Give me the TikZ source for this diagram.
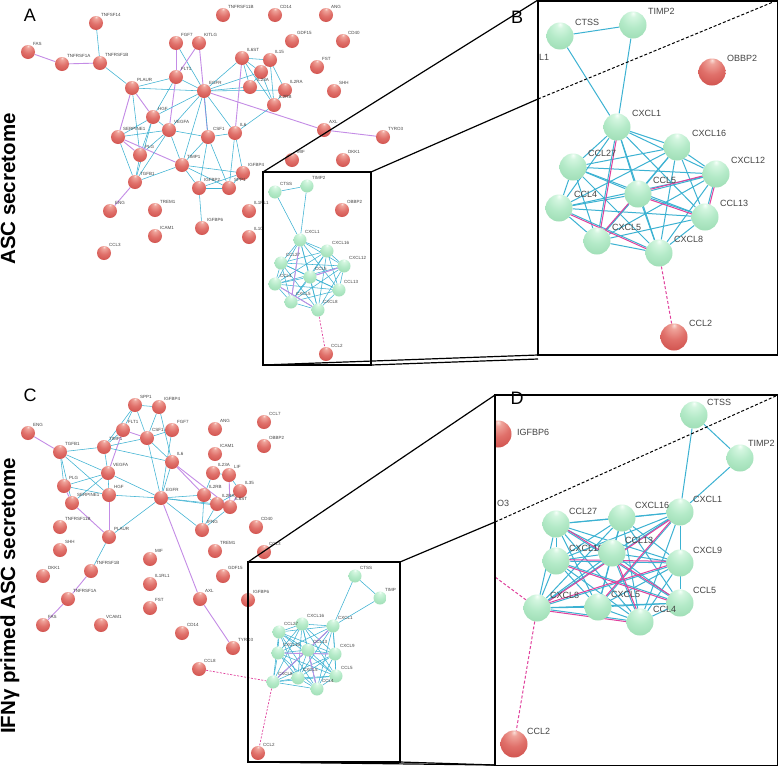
\documentclass[tikz,border=0pt]{standalone}
\usepackage{fontspec}
\setmainfont{Liberation Sans}
\usetikzlibrary{calc}
\definecolor{rA1}{HTML}{FADFD9}
\definecolor{rA2}{HTML}{EFA39A}
\definecolor{rA3}{HTML}{E0706A}
\definecolor{rA4}{HTML}{CC4A46}
\definecolor{rA5}{HTML}{A53432}
\definecolor{gA1}{HTML}{F6FFF9}
\definecolor{gA2}{HTML}{D4F6E0}
\definecolor{gA3}{HTML}{B4EAC8}
\definecolor{gA4}{HTML}{98DAB0}
\definecolor{gA5}{HTML}{68B488}
\definecolor{ecy}{HTML}{3CB2D2}
\definecolor{epu}{HTML}{C48CE6}
\definecolor{emg}{HTML}{E0409C}
\definecolor{lblc}{HTML}{444444}
\pgfdeclareradialshading{redsph}{\pgfpoint{0bp}{22bp}}{color(0bp)=(rA1); color(6bp)=(rA2); color(22bp)=(rA3); color(45bp)=(rA4); color(70bp)=(rA5); color(100bp)=(rA5)}
\pgfdeclareradialshading{greensph}{\pgfpoint{0bp}{22bp}}{color(0bp)=(gA1); color(6bp)=(gA2); color(22bp)=(gA3); color(45bp)=(gA4); color(70bp)=(gA5); color(100bp)=(gA5)}
\pgfdeclarelayer{bgfill}
\pgfdeclarelayer{edges}
\pgfsetlayers{bgfill,edges,main}
\tikzset{
 rsm/.style={circle, inner sep=0pt, minimum size=14pt, shading=redsph},
 gsm/.style={circle, inner sep=0pt, minimum size=13pt, shading=greensph},
 rbg/.style={circle, inner sep=0pt, minimum size=27pt, shading=redsph},
 gbg/.style={circle, inner sep=0pt, minimum size=27pt, shading=greensph},
 lsm/.style={font=\fontsize{4.5}{5}\selectfont, text=lblc, inner sep=0pt, anchor=west},
 lbg/.style={font=\fontsize{9}{10}\selectfont, text=lblc, inner sep=0pt, anchor=west},
 cy/.style={draw=ecy, line width=0.55pt},
 pu/.style={draw=epu, line width=0.9pt},
 cyb/.style={draw=ecy, line width=1.0pt},
 mgb/.style={draw=emg, line width=1.0pt},
 dmg/.style={draw=emg, line width=0.7pt, dash pattern=on 2pt off 1.5pt},
 dmgb/.style={draw=emg, line width=1.0pt, dash pattern=on 3pt off 2pt},
 frame/.style={draw=black, line width=1.5pt},
 persp/.style={draw=black, line width=1.2pt},
 perspd/.style={draw=black, line width=1.0pt, dash pattern=on 3pt off 2pt},
 panel/.style={font=\fontsize{18}{20}\selectfont, inner sep=0pt},
 vt/.style={font=\fontsize{20.5}{22}\selectfont\bfseries, rotate=90, inner sep=0pt, anchor=base},
}
\newcommand\RNa[4][5,-8]{\node[rsm] (#2) at (#3) {}; \node[lsm] (#2-t) at ($(#2)+(#1)$) {#4};}
\newcommand\GNa[4][5,-8]{\node[gsm] (#2) at (#3) {}; \node[lsm] (#2-t) at ($(#2)+(#1)$) {#4};}
\newcommand\RNb[4][15,-14]{\node[rbg] (#2) at (#3) {}; \node[lbg] (#2-t) at ($(#2)+(#1)$) {#4};}
\newcommand\GNb[4][15,-14]{\node[gbg] (#2) at (#3) {}; \node[lbg] (#2-t) at ($(#2)+(#1)$) {#4};}
\newcommand\EG[3]{\draw[#1] (#2) -- (#3);}
\begin{document}
\begin{tikzpicture}[x=1pt,y=-1pt]
\useasboundingbox (0,0) rectangle (778,766);
\begin{pgfonlayer}{bgfill}
\fill[white] (0,0) rectangle (778,766);
\end{pgfonlayer}

% ---------------- panel labels and side titles
\node[panel] (labA) at (30,15) {A};
\node[panel] (labB) at (517,17) {B};
\node[panel] (labC) at (30,395) {C};
\node[panel] (labD) at (517,398) {D};
\node[vt] (titA) at (15,189) {ASC secretome};
\node[vt] (titC) at (15,596) {IFNγ primed ASC secretome};

% ---------------- panel A network
\RNa{aTNFSF14}{96,23}{TNFSF14}
\RNa{aFAS}{28,52}{FAS}
\RNa{aTNFRSF1A}{62,64}{TNFRSF1A}
\RNa{aTNFRSF1B}{100,63}{TNFRSF1B}
\RNa{aPLAUR}{132,88}{PLAUR}
\RNa{aFGF7}{176,43}{FGF7}
\RNa{aFLT1}{176,77}{FLT1}
\RNa{aKITLG}{199,43}{KITLG}
\RNa{aHGF}{153,117}{HGF}
\RNa{aVEGFA}{169,130}{VEGFA}
\RNa{aSERPINE1}{118,137}{SERPINE1}
\RNa{aPLG}{140,155}{PLG}
\RNa{aTGFB1}{135,182}{TGFB1}
\RNa{aENG}{110,211}{ENG}
\RNa{aTREM1}{155,210}{TREM1}
\RNa{aICAM1}{155,236}{ICAM1}
\RNa{aCCL3}{104,253}{CCL3}
\RNa{aTIMP1}{182,165}{TIMP1}
\RNa{aEGFR}{204,91}{EGFR}
\RNa{aCSF1}{208,137}{CSF1}
\RNa{aIL6}{235,133}{IL6}
\RNa{aIL6ST}{242,58}{IL6ST}
\RNa{aIL15}{270,60}{IL15}
\RNa[-4,8]{aIL23A}{261,72}{IL23A}
\node[rsm] (aLIF) at (250,87) {};
\RNa{aIL2RA}{285,90}{IL2RA}
\RNa{aIL2RB}{274,105}{IL2RB}
\RNa{aTNFRSF11B}{223,15}{TNFRSF11B}
\RNa{aCD14}{275,15}{CD14}
\RNa{aANG}{326,15}{ANG}
\RNa{aGDF15}{292,41}{GDF15}
\RNa{aCD40}{343,41}{CD40}
\RNa{aFST}{317,67}{FST}
\RNa{aSHH}{334,91}{SHH}
\RNa{aAXL}{324,130}{AXL}
\RNa{aTYRO3}{383,137}{TYRO3}
\RNa{aMIF}{292,160}{MIF}
\RNa{aDKK1}{343,160}{DKK1}
\RNa{aIGFBP4}{243,173}{IGFBP4}
\RNa{aSPP1}{229,188}{SPP1}
\RNa{aIGFBP2}{199,188}{IGFBP2}
\RNa{aIGFBP6}{202,228}{IGFBP6}
\RNa{aIL1RL1}{249,211}{IL1RL1}
\RNa{aIL10}{249,237}{IL10}
% cluster inside the box
\GNa{aCTSS}{275,192}{CTSS}
\GNa{aTIMP2}{307,186}{TIMP2}
\RNa{aOBBP2}{342,210}{OBBP2}
\GNa{aCXCL1}{300,240}{CXCL1}
\GNa{aCXCL16}{327,251}{CXCL16}
\GNa{aCCL27}{281,263}{CCL27}
\GNa{aCXCL12}{344,266}{CXCL12}
\GNa{aCCL5}{310,277}{CCL5}
\GNa{aCCL4}{275,284}{CCL4}
\GNa{aCCL13}{339,290}{CCL13}
\GNa{aCXCL5}{291,302}{CXCL5}
\GNa{aCXCL8}{318,310}{CXCL8}
\RNa{aCCL2}{326,354}{CCL2}

\begin{pgfonlayer}{edges}
\EG{pu}{aFAS}{aTNFRSF1A}
\EG{pu}{aTNFRSF1A}{aTNFRSF1B}
\EG{cy}{aTNFSF14}{aTNFRSF1B}
\EG{cy}{aTNFRSF1B}{aPLAUR}
\EG{pu}{aPLAUR}{aHGF}
\EG{pu}{aPLAUR}{aSERPINE1}
\EG{cy}{aPLAUR}{aEGFR}
\EG{cy}{aPLAUR}{aPLG}
\EG{cy}{aPLAUR}{aFLT1}
\EG{pu}{aFGF7}{aFLT1}
\EG{cy}{aFGF7}{aEGFR}
\EG{pu}{aKITLG}{aFLT1}
\EG{pu}{aKITLG}{aCSF1}
\EG{pu}{aFLT1}{aVEGFA}
\EG{cy}{aFLT1}{aEGFR}
\EG{cy}{aFLT1}{aHGF}
\EG{cy}{aHGF}{aVEGFA}
\EG{cy}{aHGF}{aPLG}
\EG{cy}{aHGF}{aTGFB1}
\EG{cy}{aHGF}{aSERPINE1}
\EG{cy}{aHGF}{aEGFR}
\EG{cy}{aVEGFA}{aEGFR}
\EG{cy}{aVEGFA}{aTIMP1}
\EG{cy}{aVEGFA}{aPLG}
\EG{cy}{aVEGFA}{aSERPINE1}
\EG{cy}{aVEGFA}{aCSF1}
\EG{pu}{aSERPINE1}{aPLG}
\EG{pu}{aSERPINE1}{aTIMP1}
\EG{cy}{aSERPINE1}{aTGFB1}
\EG{cy}{aPLG}{aTGFB1}
\EG{cy}{aTGFB1}{aTIMP1}
\EG{cy}{aTGFB1}{aVEGFA}
\EG{pu}{aTGFB1}{aENG}
\EG{pu}{aEGFR}{aAXL}
\EG{pu}{aAXL}{aTYRO3}
\EG{cy}{aEGFR}{aCSF1}
\EG{cy}{aEGFR}{aIL6}
\EG{cy}{aEGFR}{aTIMP1}
\EG{cy}{aEGFR}{aIL23A}
\EG{cy}{aEGFR}{aIL6ST}
\EG{cy}{aEGFR}{aLIF}
\EG{cy}{aEGFR}{aIL2RA}
\EG{cy}{aCSF1}{aIL6}
\EG{cy}{aCSF1}{aTIMP1}
\EG{cy}{aCSF1}{aIGFBP2}
\EG{cy}{aCSF1}{aSPP1}
\EG{cy}{aIL6}{aIGFBP4}
\EG{cy}{aIL6}{aIL2RB}
\EG{cy}{aIL6}{aSPP1}
\EG{pu}{aIL6ST}{aIL6}
\EG{cy}{aIL6ST}{aIL15}
\EG{cy}{aIL6ST}{aIL23A}
\EG{cy}{aIL6ST}{aIL2RB}
\EG{cy}{aIL6ST}{aLIF}
\EG{cy}{aIL15}{aIL23A}
\EG{cy}{aIL15}{aIL2RA}
\EG{cy}{aIL15}{aIL2RB}
\EG{cy}{aIL23A}{aIL2RB}
\EG{cy}{aIL23A}{aLIF}
\EG{cy}{aIL2RA}{aIL2RB}
\EG{cy}{aTIMP1}{aIGFBP2}
\EG{cy}{aTIMP1}{aIGFBP4}
\EG{cy}{aTIMP1}{aSPP1}
\EG{cy}{aIGFBP2}{aIGFBP4}
\EG{cy}{aIGFBP2}{aSPP1}
\EG{cy}{aIGFBP2}{aIGFBP6}
\EG{cy}{aIGFBP4}{aSPP1}
\EG{cy}{aCTSS}{aTIMP2}
\EG{cy}{aCTSS}{aCXCL1}
\EG{cy}{aTIMP2}{aCXCL1}
\foreach \u [count=\i] in {aCXCL1,aCXCL16,aCCL27,aCXCL12,aCCL5,aCCL4,aCCL13,aCXCL5,aCXCL8}{
  \foreach \v [count=\j] in {aCXCL1,aCXCL16,aCCL27,aCXCL12,aCCL5,aCCL4,aCCL13,aCXCL5,aCXCL8}{
    \ifnum\j>\i \draw[cy] (\u) -- (\v); \fi }}
\EG{pu}{aCXCL1}{aCXCL5}
\EG{pu}{aCCL4}{aCXCL8}
\EG{pu}{aCCL5}{aCXCL12}
\EG{dmg}{aCXCL8}{aCCL2}
\end{pgfonlayer}

% ---------------- panel B (zoom of A)
\GNb{bCTSS}{560,36}{CTSS}
\GNb{bTIMP2}{633,25}{TIMP2}
\RNb{bOBBP2}{712,72}{OBBP2}
\GNb{bCXCL1}{617,127}{CXCL1}
\GNb{bCXCL16}{677,147}{CXCL16}
\GNb{bCCL27}{573,167}{CCL27}
\GNb{bCXCL12}{716,174}{CXCL12}
\GNb{bCCL5}{638,194}{CCL5}
\GNb{bCCL4}{559,208}{CCL4}
\GNb{bCCL13}{705,217}{CCL13}
\GNb{bCXCL5}{597,241}{CXCL5}
\GNb{bCXCL8}{659,253}{CXCL8}
\RNb{bCCL2}{674,337}{CCL2}
\node[lbg] (bL1) at (539,57) {L1};
\begin{pgfonlayer}{edges}
\EG{cyb}{bCTSS}{bTIMP2}
\EG{cyb}{bCTSS}{bCXCL1}
\EG{cyb}{bTIMP2}{bCXCL1}
\foreach \u [count=\i] in {bCXCL1,bCXCL16,bCCL27,bCXCL12,bCCL5,bCCL4,bCCL13,bCXCL5,bCXCL8}{
  \foreach \v [count=\j] in {bCXCL1,bCXCL16,bCCL27,bCXCL12,bCCL5,bCCL4,bCCL13,bCXCL5,bCXCL8}{
    \ifnum\j>\i \draw[cyb] (\u) -- (\v); \fi }}
\draw[mgb] ([xshift=1.5pt]bCXCL1.center) -- ([xshift=1.5pt]bCXCL5.center);
\draw[mgb] ([yshift=1.5pt]bCCL5.center) -- ([yshift=1.5pt]bCXCL12.center);
\draw[mgb] ([yshift=-1.5pt]bCCL4.center) -- ([yshift=-1.5pt]bCXCL8.center);
\draw[mgb] ([xshift=1.5pt]bCXCL12.center) -- ([xshift=1.5pt]bCCL13.center);
\draw[mgb] ([yshift=1.5pt]bCCL5.center) -- ([yshift=1.5pt]bCXCL5.center);
\draw[mgb] ([yshift=-1.5pt]bCCL5.center) -- ([yshift=-1.5pt]bCCL13.center);
\EG{dmgb}{bCXCL8}{bCCL2}
\end{pgfonlayer}

% ---------------- panel C network
\RNa{cENG}{28,433}{ENG}
\RNa{cTGFB1}{60,452}{TGFB1}
\RNa{cSPP1}{135,405}{SPP1}
\RNa{cIGFBP4}{159,407}{IGFBP4}
\RNa{cFLT1}{123,430}{FLT1}
\RNa{cCSF1}{147,438}{CSF1}
\RNa{cFGF7}{172,430}{FGF7}
\RNa{cTIMP1}{104,447}{TIMP1}
\RNa{cIL6}{172,462}{IL6}
\RNa{cVEGFA}{108,473}{VEGFA}
\RNa{cPLG}{64,486}{PLG}
\RNa{cHGF}{109,495}{HGF}
\RNa{cSERPINE1}{72,503}{SERPINE1}
\RNa{cEGFR}{161,498}{EGFR}
\RNa{cANG}{215,429}{ANG}
\RNa{cCCL7}{264,422}{CCL7}
\RNa{cOBBP2}{264,446}{OBBP2}
\RNa{cICAM1}{215,454}{ICAM1}
\RNa{cIL23A}{213,473}{IL23A}
\RNa{cLIF}{229,475}{LIF}
\RNa{cIL35}{240,491}{IL35}
\RNa{cIL2RB}{204,495}{IL2RB}
\RNa{cIL2RA}{217,504}{IL2RA}
\RNa{cIL6ST}{230,507}{IL6ST}
\RNa{cTNFRSF11B}{60,527}{TNFRSF11B}
\RNa{cPLAUR}{109,537}{PLAUR}
\RNa{cIFNG}{202,530}{IFNG}
\RNa{cSHH}{60,550}{SHH}
\RNa{cTREM1}{215,551}{TREM1}
\RNa{cMIF}{150,559}{MIF}
\RNa{cDKK1}{43,576}{DKK1}
\RNa{cTNFRSF1B}{91,571}{TNFRSF1B}
\RNa{cGDF15}{223,576}{GDF15}
\RNa{cIL1RL1}{150,584}{IL1RL1}
\RNa{cTNFRSF1A}{68,599}{TNFRSF1A}
\RNa{cAXL}{200,599}{AXL}
\RNa{cFST}{150,608}{FST}
\RNa{cIGFBP6}{248,600}{IGFBP6}
\RNa{cFAS}{43,625}{FAS}
\RNa{cVCAM1}{101,625}{VCAM1}
\RNa{cCD14}{182,633}{CD14}
\RNa{cTYRO3}{233,648}{TYRO3}
\RNa{cCCL8}{199,669}{CCL8}
\RNa{cCD40}{256,527}{CD40}
\RNa{cCCL3}{264,552}{CCL3}
% cluster
\GNa{cCTSS}{355,576}{CTSS}
\GNa{cTIMP2}{380,598}{TIMP}
\GNa{cCXCL1}{333,626}{CXCL1}
\GNa{cCXCL16}{302,624}{CXCL16}
\GNa{cCCL27}{279,632}{CCL27}
\GNa{cCXCL10}{278,653}{CXCL10}
\GNa{cCCL13}{308,650}{CCL13}
\GNa{cCXCL9}{335,654}{CXCL9}
\GNa{cCCL5}{336,676}{CCL5}
\GNa{cCCL4}{317,689}{CCL4}
\GNa{cCXCL5}{298,678}{CXCL5}
\GNa{cCXCL8}{273,682}{CXCL8}
\RNa{cCCL2}{258,753}{CCL2}

\begin{pgfonlayer}{edges}
\EG{pu}{cENG}{cTGFB1}
\EG{cy}{cTGFB1}{cTIMP1}
\EG{cy}{cTGFB1}{cPLG}
\EG{cy}{cTGFB1}{cSERPINE1}
\EG{cy}{cTGFB1}{cVEGFA}
\EG{cy}{cTGFB1}{cHGF}
\EG{cy}{cSPP1}{cIGFBP4}
\EG{cy}{cSPP1}{cCSF1}
\EG{cy}{cSPP1}{cTIMP1}
\EG{cy}{cSPP1}{cFLT1}
\EG{cy}{cIGFBP4}{cCSF1}
\EG{cy}{cIGFBP4}{cIL6}
\EG{cy}{cFGF7}{cCSF1}
\EG{cy}{cFGF7}{cEGFR}
\EG{pu}{cFLT1}{cCSF1}
\EG{pu}{cFLT1}{cVEGFA}
\EG{cy}{cFLT1}{cTIMP1}
\EG{cy}{cTIMP1}{cVEGFA}
\EG{cy}{cTIMP1}{cIL6}
\EG{cy}{cTIMP1}{cCSF1}
\EG{cy}{cCSF1}{cIL6}
\EG{cy}{cCSF1}{cEGFR}
\EG{cy}{cIL6}{cEGFR}
\EG{cy}{cVEGFA}{cHGF}
\EG{cy}{cVEGFA}{cPLG}
\EG{cy}{cVEGFA}{cSERPINE1}
\EG{cy}{cVEGFA}{cEGFR}
\EG{pu}{cPLG}{cSERPINE1}
\EG{cy}{cPLG}{cHGF}
\EG{cy}{cHGF}{cEGFR}
\EG{pu}{cHGF}{cPLAUR}
\EG{pu}{cSERPINE1}{cPLAUR}
\EG{cy}{cEGFR}{cPLAUR}
\EG{cy}{cPLAUR}{cTNFRSF1B}
\EG{pu}{cTNFRSF1B}{cTNFRSF1A}
\EG{pu}{cTNFRSF1A}{cFAS}
\EG{pu}{cEGFR}{cAXL}
\EG{pu}{cAXL}{cTYRO3}
\EG{cy}{cEGFR}{cIFNG}
\EG{cy}{cEGFR}{cIL2RB}
\EG{cy}{cEGFR}{cIL2RA}
\EG{cy}{cEGFR}{cIL6ST}
\EG{pu}{cIL6}{cIL2RB}
\EG{pu}{cIL6}{cIL6ST}
\EG{cy}{cIFNG}{cIL2RB}
\EG{cy}{cIFNG}{cIL6ST}
\EG{cy}{cIFNG}{cIL2RA}
\EG{cy}{cIL23A}{cLIF}
\EG{cy}{cIL23A}{cIL2RB}
\EG{pu}{cLIF}{cIL6ST}
\EG{cy}{cLIF}{cIL35}
\EG{cy}{cIL2RB}{cIL2RA}
\EG{cy}{cIL2RA}{cIL6ST}
\EG{pu}{cIL35}{cIL6ST}
\EG{cy}{cIL35}{cIL2RA}
\EG{cy}{cCTSS}{cTIMP2}
\EG{cy}{cCTSS}{cCXCL1}
\EG{cy}{cTIMP2}{cCXCL1}
\foreach \u [count=\i] in {cCXCL1,cCXCL16,cCCL27,cCXCL10,cCCL13,cCXCL9,cCCL5,cCCL4,cCXCL5,cCXCL8}{
  \foreach \v [count=\j] in {cCXCL1,cCXCL16,cCCL27,cCXCL10,cCCL13,cCXCL9,cCCL5,cCCL4,cCXCL5,cCXCL8}{
    \ifnum\j>\i \draw[cy] (\u) -- (\v); \fi }}
\EG{pu}{cCXCL1}{cCXCL8}
\EG{pu}{cCXCL10}{cCXCL9}
\EG{pu}{cCCL13}{cCCL4}
\EG{dmg}{cCCL8}{cCXCL8}
\EG{dmg}{cCXCL8}{cCCL2}
\end{pgfonlayer}

% ---------------- panel D (zoom of C)
\begin{scope}
\clip (495,395) rectangle (778,766);
\node[rbg] (dIGFBP6) at (498,434) {};
\end{scope}
\node[lbg] (dIGFBP6-t) at (517,432) {IGFBP6};
\node[lbg] (dO3) at (497,503) {O3};
\GNb[13,-13]{dCTSS}{694,415}{CTSS}
\GNb[8,-15]{dTIMP2}{740,458}{TIMP2}
\GNb[13,-13]{dCXCL1}{680,512}{CXCL1}
\GNb[13,-13]{dCXCL16}{622,518}{CXCL16}
\GNb[13,-13]{dCCL27}{556,524}{CCL27}
\GNb[13,-13]{dCXCL10}{556,561}{CXCL10}
\GNb[13,-13]{dCCL13}{612,553}{CCL13}
\GNb[13,-13]{dCXCL9}{680,563}{CXCL9}
\GNb[13,-13]{dCCL5}{680,603}{CCL5}
\GNb[13,-13]{dCCL4}{640,622}{CCL4}
\GNb[13,-13]{dCXCL5}{598,607}{CXCL5}
\GNb[13,-13]{dCXCL8}{537,608}{CXCL8}
\RNb[13,-13]{dCCL2}{514,744}{CCL2}
\coordinate (dCCL8end) at (495,577);
\begin{pgfonlayer}{edges}
\EG{cyb}{dCTSS}{dTIMP2}
\EG{cyb}{dCTSS}{dCXCL1}
\EG{cyb}{dTIMP2}{dCXCL1}
\foreach \u [count=\i] in {dCXCL1,dCXCL16,dCCL27,dCXCL10,dCCL13,dCXCL9,dCCL5,dCCL4,dCXCL5,dCXCL8}{
  \foreach \v [count=\j] in {dCXCL1,dCXCL16,dCCL27,dCXCL10,dCCL13,dCXCL9,dCCL5,dCCL4,dCXCL5,dCXCL8}{
    \ifnum\j>\i \draw[cyb] (\u) -- (\v); \fi }}
\draw[mgb] ([xshift=1.5pt]dCXCL1.center) -- ([xshift=1.5pt]dCXCL8.center);
\draw[mgb] ([yshift=1.5pt]dCXCL10.center) -- ([yshift=1.5pt]dCXCL9.center);
\draw[mgb] ([yshift=-1.5pt]dCXCL10.center) -- ([yshift=-1.5pt]dCCL5.center);
\draw[mgb] ([xshift=1.5pt]dCCL13.center) -- ([xshift=1.5pt]dCCL4.center);
\draw[mgb] ([yshift=1.5pt]dCXCL9.center) -- ([yshift=1.5pt]dCXCL8.center);
\draw[mgb] ([xshift=-1.5pt]dCXCL1.center) -- ([xshift=-1.5pt]dCXCL5.center);
\draw[mgb] ([yshift=1.5pt]dCCL27.center) -- ([yshift=1.5pt]dCCL5.center);
\draw[mgb] ([yshift=-1.5pt]dCXCL8.center) -- ([yshift=-1.5pt]dCCL4.center);
\EG{dmgb}{dCXCL8}{dCCL2}
\EG{dmgb}{dCXCL8}{dCCL8end}
\end{pgfonlayer}

% ---------------- frames and perspective lines
\draw[frame] (263,172) rectangle (371,365);
\draw[frame] (538,0.75) rectangle (777.25,355);
\draw[persp] (263,172) -- (538,0);
\draw[persp] (371,172) -- (538,99);
\draw[perspd] (538,99) -- (778,0);
\draw[persp] (263,365) -- (538,355);
\draw[persp] (371,365) -- (538,359);

\draw[frame] (248,562) rectangle (400,762);
\draw[frame] (495,395) rectangle (777.25,765.25);
\draw[persp] (248,562) -- (495,395);
\draw[persp] (400,562) -- (495,522);
\draw[perspd] (495,522) -- (778,395);
\draw[persp] (248,762) -- (495,765);
\draw[persp] (400,762) -- (495,765);
\end{tikzpicture}
\end{document}
